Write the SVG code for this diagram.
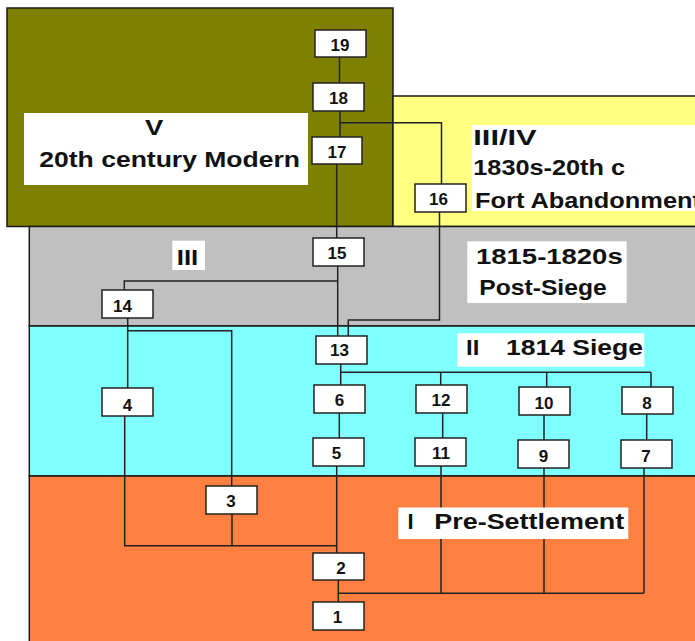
<svg xmlns="http://www.w3.org/2000/svg" width="695" height="641" viewBox="0 0 695 641">
<style>
.band{stroke:#1a1a1a;stroke-width:1.5}
.lbl{fill:#fff;stroke:none}
.lt{font-family:"Liberation Sans",Arial,sans-serif;font-weight:bold;font-size:22px;fill:#111}
.nd rect{fill:#fff;stroke:#222;stroke-width:1.5}
.nd text{font-family:"Liberation Sans",Arial,sans-serif;font-weight:bold;font-size:17px;fill:#111;text-anchor:middle}
#connectors path{fill:none;stroke:#222;stroke-width:1.5}
</style>
<rect width="695" height="641" fill="#fff"/>
<g id="bands">
<rect class="band" x="7" y="8" width="386" height="218.5" fill="#808000"/>
<rect class="band" x="393" y="96" width="310" height="130.5" fill="#FFFF80"/>
<rect class="band" x="29.3" y="226.5" width="680" height="99.5" fill="#C0C0C0"/>
<rect class="band" x="29.3" y="326" width="680" height="150" fill="#80FFFF"/>
<rect class="band" x="29.3" y="476" width="680" height="180" fill="#FF8040"/>
</g>
<g id="connectors">
<path d="M339.5,57V83"/>
<path d="M340,111V137"/>
<path d="M340,122.7H441.5V184"/>
<path d="M336.7,164V238"/>
<path d="M337.7,266V336"/>
<path d="M337.7,281H124.3V290"/>
<path d="M439.5,212V320H348.3V336"/>
<path d="M340.7,364V372.3H651"/>
<path d="M340.7,372.3V385"/>
<path d="M440.7,372.3V385"/>
<path d="M546.7,372.3V387"/>
<path d="M651,372.3V387"/>
<path d="M339.3,413V438"/>
<path d="M442.7,413V438"/>
<path d="M544,414V440"/>
<path d="M646.7,414V440"/>
<path d="M127.7,318V388"/>
<path d="M127.7,330.7H231.7V486"/>
<path d="M124.7,416V545.7H336.7"/>
<path d="M232,514V545.7"/>
<path d="M336.7,466V553"/>
<path d="M338.3,580V602"/>
<path d="M338.3,593.3H644"/>
<path d="M441,466V593.3"/>
<path d="M544,468V593.3"/>
<path d="M644,468V593.3"/>
</g>
<g id="label-V">
<rect class="lbl" x="24" y="113" width="284" height="72"/>
<text class="lt" x="145" y="135" font-size="24" textLength="18.3" lengthAdjust="spacingAndGlyphs">V</text>
<text class="lt" x="39.3" y="167.3" textLength="260.7" lengthAdjust="spacingAndGlyphs">20th century Modern</text>
</g>
<g id="label-IIIIV">
<rect class="lbl" x="472" y="125" width="230" height="86"/>
<text class="lt" x="473.3" y="145" textLength="63.4" lengthAdjust="spacingAndGlyphs">III/IV</text>
<text class="lt" x="473.3" y="175" textLength="151.7" lengthAdjust="spacingAndGlyphs">1830s-20th c</text>
<text class="lt" x="475" y="208.3" font-size="24" textLength="226" lengthAdjust="spacingAndGlyphs">Fort Abandonment</text>
</g>
<g id="label-III">
<rect class="lbl" x="172.3" y="240.7" width="32.7" height="29.3"/>
<text class="lt" x="176.7" y="265" textLength="21.6" lengthAdjust="spacingAndGlyphs">III</text>
</g>
<g id="label-postsiege">
<rect class="lbl" x="467.3" y="241.3" width="159.4" height="61.7"/>
<text class="lt" x="476" y="264" textLength="146.7" lengthAdjust="spacingAndGlyphs">1815-1820s</text>
<text class="lt" x="479.3" y="295.3" textLength="127.4" lengthAdjust="spacingAndGlyphs">Post-Siege</text>
</g>
<g id="label-II">
<rect class="lbl" x="457.3" y="333.3" width="187" height="33.4"/>
<text class="lt" x="466" y="355.3"><tspan textLength="13.3" lengthAdjust="spacingAndGlyphs">II</tspan><tspan x="506" textLength="137" lengthAdjust="spacingAndGlyphs">1814 Siege</tspan></text>
</g>
<g id="label-I">
<rect class="lbl" x="398.3" y="507.5" width="230" height="31.5"/>
<text class="lt" x="407.5" y="529.3"><tspan>I</tspan><tspan x="434.3" textLength="190" lengthAdjust="spacingAndGlyphs">Pre-Settlement</tspan></text>
</g>
<g id="node-19" class="nd"><rect x="315" y="30" width="51" height="27"/><text x="340" y="50.7">19</text></g>
<g id="node-18" class="nd"><rect x="313" y="83" width="51" height="28"/><text x="338.5" y="104">18</text></g>
<g id="node-17" class="nd"><rect x="312" y="137" width="50" height="27"/><text x="337" y="157.5">17</text></g>
<g id="node-16" class="nd"><rect x="415" y="184" width="51" height="28"/><text x="438.5" y="205">16</text></g>
<g id="node-15" class="nd"><rect x="313" y="238" width="51" height="28"/><text x="337" y="259">15</text></g>
<g id="node-14" class="nd"><rect x="102" y="290" width="51" height="28"/><text x="122.5" y="311.5">14</text></g>
<g id="node-13" class="nd"><rect x="316" y="336" width="51" height="28"/><text x="339.5" y="355.5">13</text></g>
<g id="node-6" class="nd"><rect x="314" y="385" width="51" height="28"/><text x="339.5" y="406">6</text></g>
<g id="node-12" class="nd"><rect x="416" y="385" width="51" height="28"/><text x="441" y="406">12</text></g>
<g id="node-10" class="nd"><rect x="519" y="387" width="51" height="28"/><text x="544" y="408.5">10</text></g>
<g id="node-8" class="nd"><rect x="622" y="387" width="51" height="27"/><text x="647" y="408.5">8</text></g>
<g id="node-4" class="nd"><rect x="102" y="388" width="51" height="28"/><text x="127.5" y="411">4</text></g>
<g id="node-5" class="nd"><rect x="313" y="438" width="51" height="28"/><text x="336.5" y="459">5</text></g>
<g id="node-11" class="nd"><rect x="415" y="438" width="51" height="28"/><text x="441" y="459">11</text></g>
<g id="node-9" class="nd"><rect x="518" y="440" width="51" height="28"/><text x="543.5" y="462">9</text></g>
<g id="node-7" class="nd"><rect x="621" y="440" width="51" height="28"/><text x="646" y="462">7</text></g>
<g id="node-3" class="nd"><rect x="206" y="486" width="51" height="28"/><text x="231" y="506.5">3</text></g>
<g id="node-2" class="nd"><rect x="313" y="553" width="51" height="27"/><text x="341" y="574">2</text></g>
<g id="node-1" class="nd"><rect x="313" y="602" width="51" height="28"/><text x="337.5" y="622.5">1</text></g>
</svg>
